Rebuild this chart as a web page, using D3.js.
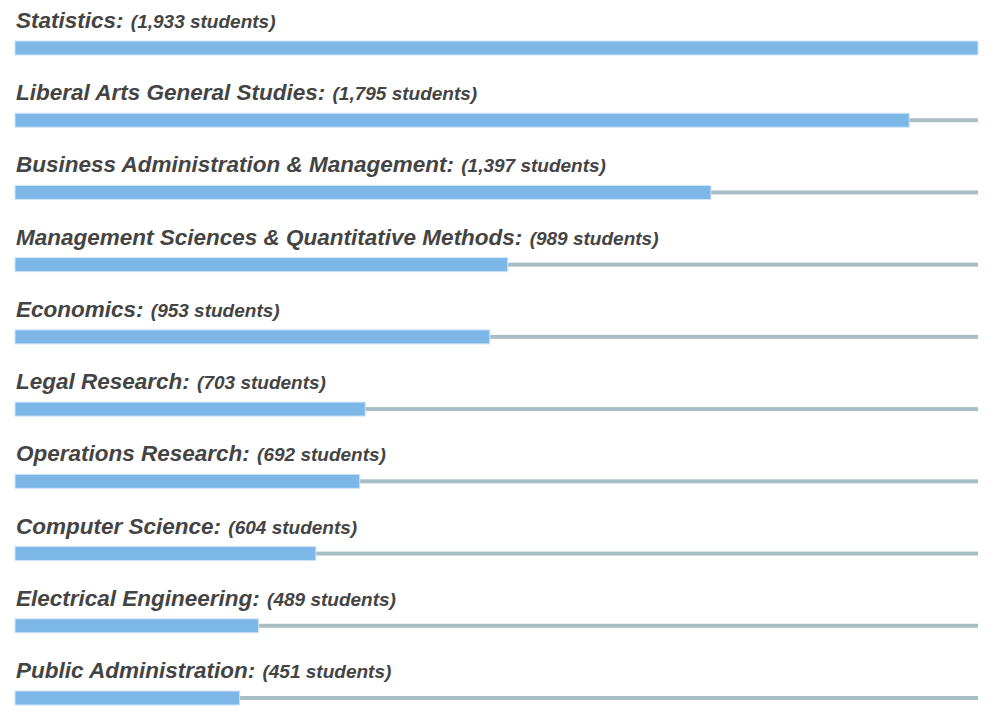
<!DOCTYPE html>
<html><head><meta charset="utf-8">
<script src="https://cdn.jsdelivr.net/npm/d3@7"></script>
<style>body{margin:0;background:#fff;} text{font-family:"Liberation Sans",Arial,sans-serif;font-weight:bold;font-style:italic;fill:#444;}</style>
</head><body>
<script>
const categories = ["Statistics","Liberal Arts General Studies","Business Administration & Management","Management Sciences & Quantitative Methods","Economics","Legal Research","Operations Research","Computer Science","Electrical Engineering","Public Administration"];
const students = [1933,1795,1397,989,953,703,692,604,489,451];
const maxStudents = 1933;

const W = 995, H = 722;
const svg = d3.select("body").append("svg").attr("width", W).attr("height", H);
const x = d3.scaleLinear().domain([0, maxStudents]).range([15, 978]);
const y = d3.scalePoint().domain(categories).range([48, 698]);
const fmt = d3.format(",");
const data = categories.map((c,i)=>({c, v: students[i]}));

const g = svg.selectAll("g.row").data(data).join("g").attr("class","row");
g.append("rect").attr("x", x(0)).attr("width", x(maxStudents)-x(0))
  .attr("y", d=>y(d.c)-2).attr("height", 4).attr("fill","#a9bdc5");
g.append("rect").attr("x", x(0)).attr("width", d=>x(d.v)-x(0))
  .attr("y", d=>y(d.c)-7).attr("height", 14).attr("fill","#7db7e8")
  .attr("stroke","#cfe5f8").attr("stroke-width",1);
const t = g.append("text").attr("x", 16).attr("y", d=>y(d.c)-20);
t.append("tspan").attr("font-size","22.5px").text(d=>d.c+":");
t.append("tspan").attr("font-size","19px").attr("dx", 2).text(d=>" ("+fmt(d.v)+" students)");
</script>
</body></html>
